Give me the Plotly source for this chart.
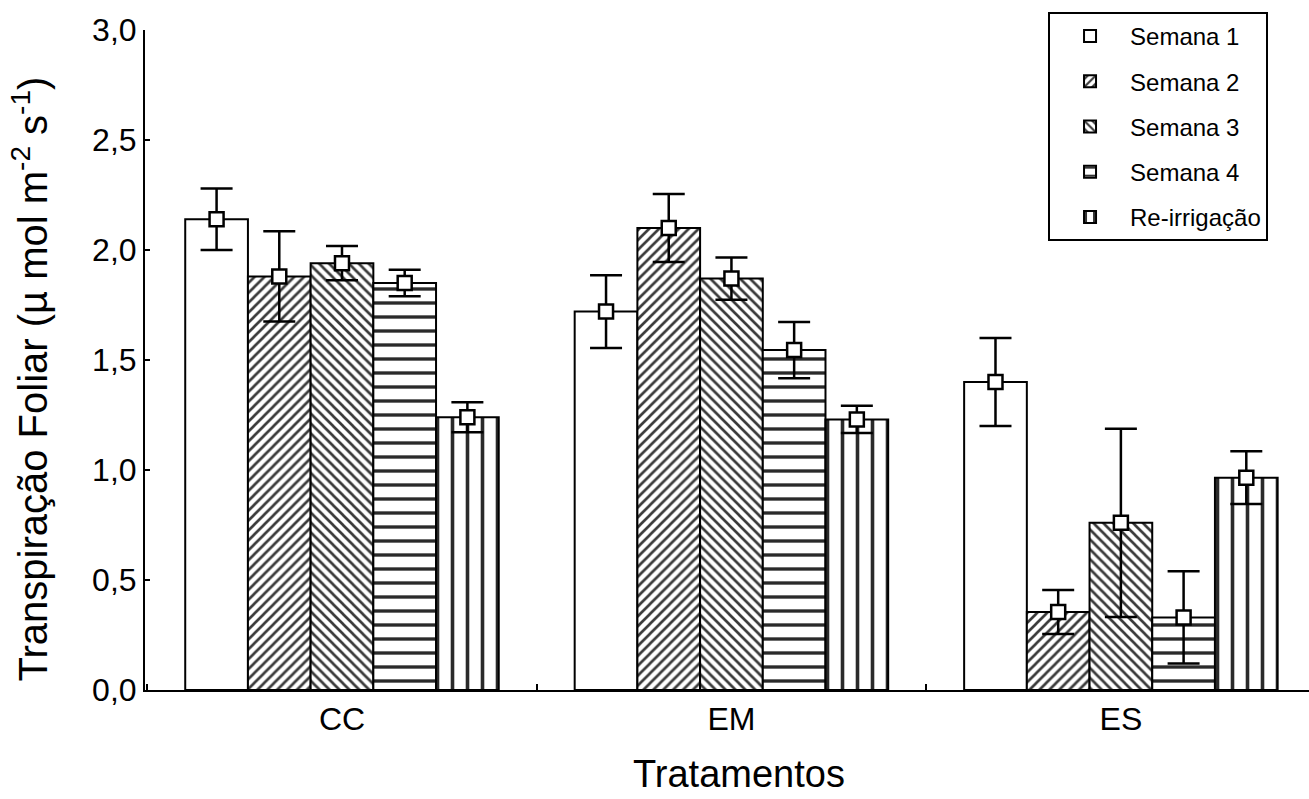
import plotly.graph_objects as go

# Treatments on the x axis
categories = ["CC", "EM", "ES"]

# Weekly series: means and standard errors of leaf transpiration
series_names = ["Semana 1", "Semana 2", "Semana 3", "Semana 4", "Re-irrigação"]
semana1 = [2.14, 1.72, 1.40]
semana2 = [1.88, 2.10, 0.355]
semana3 = [1.94, 1.87, 0.76]
semana4 = [1.85, 1.545, 0.33]
reirrigacao = [1.24, 1.23, 0.965]

erro1 = [0.14, 0.165, 0.20]
erro2 = [0.205, 0.155, 0.10]
erro3 = [0.078, 0.096, 0.428]
erro4 = [0.06, 0.128, 0.21]
erro_re = [0.068, 0.062, 0.12]

y_ticks = [0.0, 0.5, 1.0, 1.5, 2.0, 2.5, 3.0]

means = [semana1, semana2, semana3, semana4, reirrigacao]
errors = [erro1, erro2, erro3, erro4, erro_re]
patterns = [
    dict(shape=""),
    dict(shape="/", size=7, solidity=0.38, fgcolor="#3a3a3a"),
    dict(shape="\\", size=7, solidity=0.38, fgcolor="#3a3a3a"),
    dict(shape="-", size=14, solidity=0.24, fgcolor="#2a2a2a"),
    dict(shape="|", size=15, solidity=0.24, fgcolor="#2a2a2a"),
]

GAP = 0.195
FONT = "Liberation Sans, Arial, sans-serif"

fig = go.Figure()

for name, vals, pat in zip(series_names, means, patterns):
    p = dict(pat)
    p.update(bgcolor="white", fillmode="replace")
    p.setdefault("fgcolor", "black")
    fig.add_trace(go.Bar(
        x=categories, y=vals, name=name,
        legendgroup=name,
        marker=dict(color="white", line=dict(color="black", width=2), pattern=p),
    ))

# Mean markers with error bars, grouped to sit on top of each bar
for name, vals, errs in zip(series_names, means, errors):
    fig.add_trace(go.Scatter(
        x=categories, y=vals, mode="markers", showlegend=False,
        legendgroup=name,
        marker=dict(symbol="square", size=14, color="white",
                    line=dict(color="black", width=2.5)),
        error_y=dict(type="data", array=errs, visible=True,
                     color="black", thickness=2.5, width=16),
    ))

fig.update_layout(
    width=1309, height=799,
    margin=dict(l=145, r=0, t=30, b=109),
    plot_bgcolor="white", paper_bgcolor="white",
    barmode="group", bargap=GAP,
    scattermode="group", scattergap=GAP,
    separators=",.",
    font=dict(family=FONT, color="black"),
    showlegend=True,
    legend=dict(
        x=0.7758, y=1.0273, xanchor="left", yanchor="top",
        bordercolor="black", borderwidth=2, bgcolor="white",
        font=dict(size=24, family=FONT),
        itemwidth=70, tracegroupgap=11,
    ),
)

fig.update_xaxes(
    type="category", range=[-0.5058, 2.483],
    showline=True, linecolor="black", linewidth=2,
    ticks="inside", ticklen=6, tickwidth=1.5, tickcolor="black",
    tickson="boundaries",
    tickfont=dict(size=32, family=FONT),
    showgrid=False, zeroline=False,
)
fig.update_yaxes(
    range=[0, 3.0], tickvals=y_ticks, tickformat=".1f",
    showline=True, linecolor="black", linewidth=2,
    ticks="inside", ticklen=5, tickwidth=2, tickcolor="black",
    tickfont=dict(size=32, family=FONT),
    showgrid=False, zeroline=False,
)

fig.add_annotation(
    text="Transpiração Foliar (µ mol m<sup>-2</sup> s<sup>-1</sup>)",
    xref="paper", yref="paper", x=-0.0985, y=0.471,
    xanchor="center", yanchor="middle", textangle=-90,
    showarrow=False, font=dict(size=40, family=FONT),
)
fig.add_annotation(
    text="Tratamentos",
    xref="paper", yref="paper", x=0.510, y=-0.128,
    xanchor="center", yanchor="middle",
    showarrow=False, font=dict(size=38, family=FONT),
)

fig.write_html("out.html")
